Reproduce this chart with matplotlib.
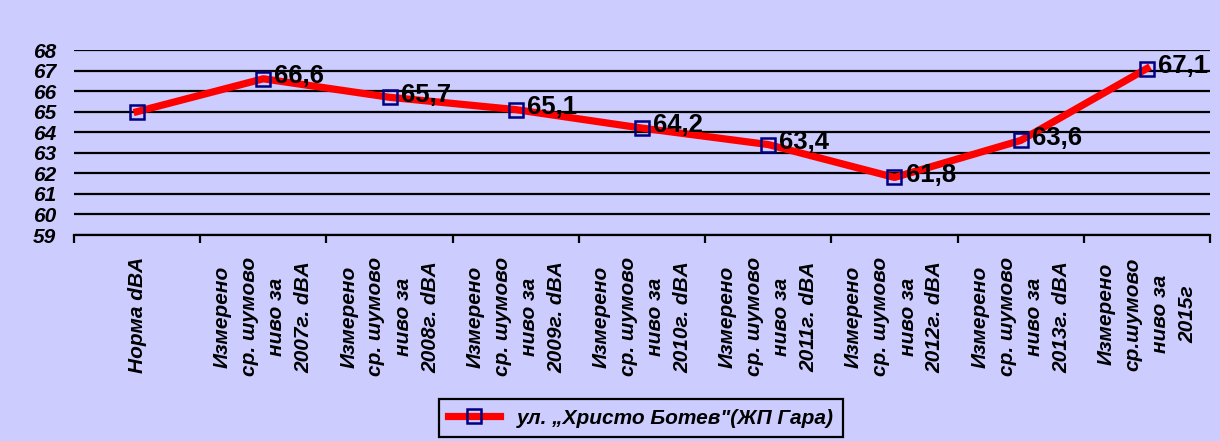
import matplotlib
matplotlib.use("Agg")
import matplotlib.pyplot as plt
import matplotlib.ticker as mticker
import numpy as np

plt.rcParams["font.family"] = ["Liberation Sans", "DejaVu Sans"]

# data
categories = [
    "Норма dBA",
    "Измерено\nср. шумово\nниво за\n2007г. dBA",
    "Измерено\nср. шумово\nниво за\n2008г. dBA",
    "Измерено\nср. шумово\nниво за\n2009г. dBA",
    "Измерено\nср. шумово\nниво за\n2010г. dBA",
    "Измерено\nср. шумово\nниво за\n2011г. dBA",
    "Измерено\nср. шумово\nниво за\n2012г. dBA",
    "Измерено\nср. шумово\nниво за\n2013г. dBA",
    "Измерено\nср.шумово\nниво за\n2015г",
]
noise_db = [65.0, 66.6, 65.7, 65.1, 64.2, 63.4, 61.8, 63.6, 67.1]
series_name = "ул. „Христо Ботев\"(ЖП Гара)"
y_ticks = list(range(59, 69))

BG = "#ccccff"

fig = plt.figure(figsize=(12.2, 4.41), dpi=100, facecolor=BG)
ax = fig.add_axes([74 / 1220, 1 - 235 / 441, (1210 - 74) / 1220, 185 / 441])
ax.set_facecolor(BG)

x = np.arange(len(categories))
line, = ax.plot(x, noise_db, color="#ff0000", lw=5.2, marker="s", ms=10,
                mfc="none", mec="#000080", mew=1.8, solid_joinstyle="bevel",
                zorder=3)

# value labels to the right of each measured point
for xi, v in zip(x[1:], noise_db[1:]):
    ax.annotate(f"{v:.1f}".replace(".", ","), (xi, v), xytext=(8, 2),
                textcoords="offset points", ha="left", va="center",
                fontsize=18.5, fontweight="bold", color="black", zorder=4)

ax.set_xlim(-0.5, len(categories) - 0.5)
ax.set_ylim(59, 68)
ax.set_yticks(y_ticks)
ax.yaxis.grid(True, color="black", lw=1.6)
ax.set_axisbelow(True)
ax.tick_params(axis="y", length=0, pad=13, labelsize=15)
for lab in ax.get_yticklabels():
    lab.set_fontweight("bold")
    lab.set_fontstyle("italic")

ax.set_xticks(x)
ax.set_xticklabels(categories, rotation=90, fontsize=15, fontweight="bold",
                   fontstyle="italic", linespacing=1.55, ha="center",
                   va="top", multialignment="center")
ax.xaxis.set_minor_locator(mticker.FixedLocator(np.arange(-0.5, len(categories), 1.0)))
ax.tick_params(axis="x", which="major", length=0, pad=16)
ax.tick_params(axis="x", which="minor", length=6, width=1.6, direction="out",
               color="black")

for side in ("top", "right", "left"):
    ax.spines[side].set_visible(False)
ax.spines["bottom"].set_linewidth(1.6)

leg = fig.legend([line], [series_name], loc="lower center",
                 bbox_to_anchor=(641 / 1220, 4 / 441), borderaxespad=0,
                 frameon=True, fancybox=False, edgecolor="black",
                 facecolor=BG, framealpha=1, handlelength=2.5, borderpad=0.45,
                 prop={"weight": "bold", "style": "italic", "size": 15})
leg.get_frame().set_linewidth(1.6)

fig.savefig("out.png", dpi=100, facecolor=BG)
